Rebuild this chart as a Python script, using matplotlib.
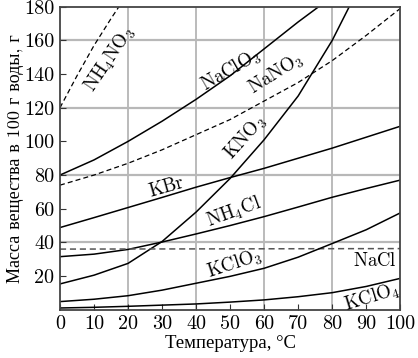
import matplotlib
matplotlib.use('Agg')
import matplotlib.pyplot as plt

plt.rcParams['font.family'] = ['cmr10', 'Liberation Serif']
plt.rcParams['mathtext.fontset'] = 'cm'
plt.rcParams['axes.unicode_minus'] = False

# Температура, °C
t = [0, 10, 20, 30, 40, 50, 60, 70, 80, 90, 100]

# Растворимость, г на 100 г воды
nh4no3_t = [0, 5, 10, 15, 17.3]
nh4no3 = [120, 139, 157, 173, 180]
naclo3_t = [0, 10, 20, 30, 40, 50, 60, 70, 80]
naclo3 = [80, 89, 100, 112, 125, 139, 155, 171, 186]
kno3_t = [0, 10, 20, 30, 40, 50, 60, 70, 80, 85, 90]
kno3 = [15.3, 20.5, 27.5, 40.5, 58, 78, 101, 127, 160, 180, 200]
nano3 = [74, 80, 87, 95, 104, 113, 124, 135, 148, 163, 179]
kbr = [48.8, 54.7, 60.7, 66.7, 72.8, 78.5, 84, 90, 96, 102.5, 109]
nh4cl = [31.5, 33, 35.8, 40.2, 45, 50, 55.3, 61, 66.8, 72, 77]
nacl_t = [0, 100]
nacl = [36.0, 36.3]
kclo3 = [4.8, 6.2, 8.3, 11.6, 15.7, 19.8, 24.6, 31.2, 39.3, 47.5, 57.5]
kclo4 = [1.0, 1.4, 2.0, 2.7, 3.4, 4.5, 5.8, 7.7, 10.1, 13.8, 18.6]

fig = plt.figure(figsize=(4.18, 3.58), dpi=100)
ax = fig.add_axes([0.1435, 0.135, 0.814, 0.846])

# сетка
for gx in [20, 40, 60, 80]:
    ax.axvline(gx, color='#a8a8a8', lw=1.1, zorder=0)
for gy in [40, 80, 120, 160]:
    ax.axhline(gy, color='#b8b8b8', lw=1.6, zorder=0)

solid = dict(color='black', lw=1.1)
dash = dict(color='black', lw=0.9, dashes=(4, 2.5))

ax.plot(nh4no3_t, nh4no3, **dash)
ax.plot(naclo3_t, naclo3, **solid)
ax.plot(kno3_t, kno3, **solid)
ax.plot(t, nano3, **dash)
ax.plot(t, kbr, **solid)
ax.plot(t, nh4cl, **solid)
ax.plot(nacl_t, nacl, color='#555555', lw=1.1, dashes=(4, 2.5))
ax.plot(t, kclo3, **solid)
ax.plot(t, kclo4, **solid)

fs = 13.5
labels = [
    (r'$\mathrm{NH_4NO_3}$', 14.6, 149, 56),
    (r'$\mathrm{NaClO_3}$', 50.2, 142, 30),
    (r'$\mathrm{NaNO_3}$', 63.5, 140, 32),
    (r'$\mathrm{KNO_3}$', 54.4, 102, 48),
    (r'$\mathrm{KBr}$', 31.4, 73, 16),
    (r'$\mathrm{NH_4Cl}$', 51.2, 58, 20),
    (r'$\mathrm{KClO_3}$', 51.2, 27, 18),
    (r'$\mathrm{NaCl}$', 92.6, 29, 0),
    (r'$\mathrm{KClO_4}$', 91.7, 7.5, 17),
]
for txt, x, y, rot in labels:
    ax.text(x, y, txt, fontsize=fs, rotation=rot, ha='center', va='center',
            rotation_mode='anchor')

ax.set_xlim(0, 100)
ax.set_ylim(0, 180)
ax.set_xticks(range(0, 101, 10))
ax.set_yticks(range(20, 181, 20))
ax.tick_params(direction='in', length=4, width=0.8, labelsize=14.5, pad=4,
               colors='#333333', labelcolor='black')
for s in ax.spines.values():
    s.set_color('#444444')
    s.set_linewidth(1.3)

ax.set_xlabel('Температура, °C', fontsize=13.5, labelpad=1,
              family=['Liberation Serif'])
ax.set_ylabel('Масса вещества в 100 г воды, г', fontsize=13, labelpad=0)

fig.savefig('out.png', dpi=100)
